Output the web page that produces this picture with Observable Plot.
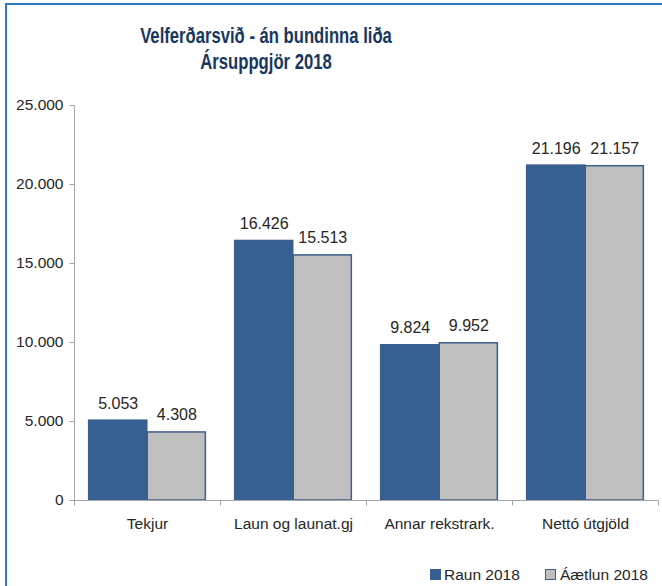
<!DOCTYPE html>
<html>
<head>
<meta charset="utf-8">
<script src="https://cdn.jsdelivr.net/npm/d3@7"></script>
<script src="https://cdn.jsdelivr.net/npm/@observablehq/plot@0.6"></script>
<style>
  body { margin: 0; background: #fff; }
  #wrap { position: relative; width: 662px; height: 586px; overflow: hidden; font-family: "Liberation Sans", Arial, sans-serif; background: #fff; }
  .edge { position: absolute; background: #2f78c4; }
  #title { position: relative; width: 662px; height: 90px; }
  .tl { position: absolute; left: 266px; white-space: nowrap; font-weight: bold; font-size: 22px; line-height: 22px; color: #17375e; }
  #chart svg { display: block; }
  #legend { position: relative; width: 662px; height: 36px; }
  .sw { position: absolute; width: 11px; height: 11px; box-sizing: border-box; }
  .lt { position: absolute; font-size: 15.5px; line-height: 16px; color: #262626; white-space: nowrap; }
</style>
</head>
<body>
<div id="wrap">
  <div id="title"></div>
  <div id="chart"></div>
  <div id="legend"></div>
  <div class="edge" style="left:5px;top:3px;width:657px;height:2px;"></div>
  <div class="edge" style="left:5px;top:3px;width:2px;height:583px;"></div>
</div>
<script>
// ---- data ----
const titleLines = ["Velferðarsvið - án bundinna liða", "Ársuppgjör 2018"];
const categories = ["Tekjur", "Laun og launat.gj", "Annar rekstrark.", "Nettó útgjöld"];
const seriesNames = ["Raun 2018", "Áætlun 2018"];
const raun = [5053, 16426, 9824, 21196];
const aaetlun = [4308, 15513, 9952, 21157];
const yTicks = [0, 5000, 10000, 15000, 20000, 25000];

const seriesColors = ["#376092", "#bfbfbf"];
const borderColor = "#3a5f8c";

const rows = [];
categories.forEach((c, i) => {
  rows.push({category: c, series: seriesNames[0], value: raun[i]});
  rows.push({category: c, series: seriesNames[1], value: aaetlun[i]});
});

const fmt = d3.formatLocale({decimal: ",", thousands: ".", grouping: [3], currency: ["", ""]}).format(",d");

// ---- title ----
const titleDiv = document.getElementById("title");
const tops = [25, 51];
const spans = titleLines.map((t, i) => {
  const s = document.createElement("span");
  s.className = "tl";
  s.textContent = t;
  s.style.top = tops[i] + "px";
  titleDiv.appendChild(s);
  return s;
});
const scaleX = 252 / spans[0].offsetWidth;
spans.forEach(s => { s.style.transform = `translateX(-50%) scaleX(${scaleX})`; });

// ---- chart ----
const W = 662, H = 460;
const mL = 73, mR = 3, mT = 15, mB = 50;
const band = (W - mL - mR) / categories.length;
const outer = band * 0.1;
const barW = (band - 2 * outer) / 2;

const axisMark = (index, scales, values, dimensions) => {
  const {x, y} = scales;
  const bw = x.bandwidth ? x.bandwidth() : band;
  const g = d3.create("svg:g").attr("stroke", "#a6a6a6").attr("stroke-width", 1).attr("fill", "none");
  const cx = v => Math.round(v) + 0.5;
  const x0 = cx(x(categories[0]));
  const y0 = cx(y(0));
  g.append("line").attr("x1", x0).attr("x2", x0).attr("y1", cx(y(yTicks[yTicks.length - 1]))).attr("y2", y0 + 5);
  yTicks.forEach(t => {
    g.append("line").attr("x1", x0 - 5).attr("x2", x0).attr("y1", cx(y(t))).attr("y2", cx(y(t)));
  });
  const xEnd = cx(x(categories[categories.length - 1]) + bw);
  g.append("line").attr("x1", x0).attr("x2", xEnd).attr("y1", y0).attr("y2", y0);
  categories.forEach((c, i) => {
    if (i === 0) return;
    const xs = cx(x(c));
    g.append("line").attr("x1", xs).attr("x2", xs).attr("y1", y0).attr("y2", y0 + 5);
  });
  g.append("line").attr("x1", xEnd).attr("x2", xEnd).attr("y1", y0).attr("y2", y0 + 5);
  return g.node();
};

const chart = Plot.plot({
  width: W,
  height: H,
  marginLeft: mL,
  marginRight: mR,
  marginTop: mT,
  marginBottom: mB,
  style: {fontFamily: "Liberation Sans, Arial, sans-serif", fontSize: "15.5px", color: "#262626", background: "transparent"},
  x: {domain: categories, padding: 0, tickSize: 0, tickPadding: 17, label: null},
  y: {domain: [0, 25000], ticks: yTicks.length - 1, tickFormat: fmt, tickSize: 0, tickPadding: 10, label: null},
  marks: [
    Plot.barY(rows.filter(d => d.series === seriesNames[0]), {
      x: "category", y: "value", fill: seriesColors[0], stroke: borderColor, strokeWidth: 1.5,
      insetLeft: outer, insetRight: outer + barW
    }),
    Plot.barY(rows.filter(d => d.series === seriesNames[1]), {
      x: "category", y: "value", fill: seriesColors[1], stroke: borderColor, strokeWidth: 1.5,
      insetLeft: outer + barW, insetRight: outer
    }),
    axisMark,
    Plot.text(rows.filter(d => d.series === seriesNames[0]), {
      x: "category", y: "value", text: d => fmt(d.value), dx: -barW / 2, dy: -12,
      lineAnchor: "bottom", fill: "#262626", fontSize: 16
    }),
    Plot.text(rows.filter(d => d.series === seriesNames[1]), {
      x: "category", y: "value", text: d => fmt(d.value), dx: barW / 2, dy: -12,
      lineAnchor: "bottom", fill: "#262626", fontSize: 16
    })
  ]
});
document.getElementById("chart").appendChild(chart);

// ---- legend ----
const legend = document.getElementById("legend");
const legendPos = [{sw: 430, tx: 444}, {sw: 545, tx: 560}];
seriesNames.forEach((name, i) => {
  const sw = document.createElement("div");
  sw.className = "sw";
  sw.style.left = legendPos[i].sw + "px";
  sw.style.top = "19px";
  sw.style.background = seriesColors[i];
  sw.style.border = "1.5px solid " + borderColor;
  legend.appendChild(sw);
  const t = document.createElement("div");
  t.className = "lt";
  t.style.left = legendPos[i].tx + "px";
  t.style.top = "17px";
  t.textContent = name;
  legend.appendChild(t);
});
</script>
</body>
</html>
